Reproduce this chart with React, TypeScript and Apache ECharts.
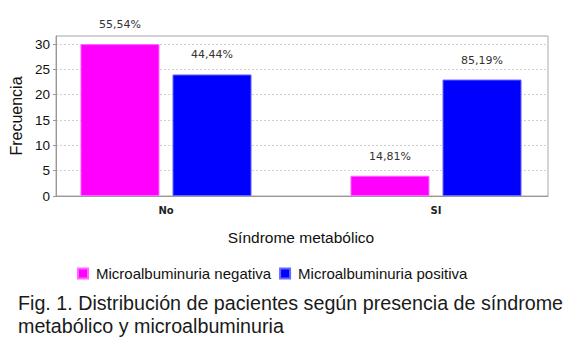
import React, { useEffect, useRef } from "react";
import * as echarts from "echarts";

const categories = ["No", "SI"];
const negativa = [30, 4];
const positiva = [24, 23];
const negativaLabels = ["55,54%", "14,81%"];
const positivaLabels = ["44,44%", "85,19%"];
const seriesNames = ["Microalbuminuria negativa", "Microalbuminuria positiva"];
const yTicks = [0, 5, 10, 15, 20, 25, 30];
const captionLines = [
  "Fig. 1. Distribución de pacientes según presencia de síndrome",
  "metabólico y microalbuminuria",
];

const Y_MAX = 31.6;

export default function App() {
  const ref = useRef<HTMLDivElement>(null);
  useEffect(() => {
    document.body.style.margin = "0";
    const chart = echarts.init(ref.current!, null, { renderer: "svg" });
    const sans = "'Liberation Sans', Arial, sans-serif";
    const tah = "'DejaVu Sans', Tahoma, sans-serif";
    chart.setOption({
      animation: false,
      backgroundColor: "#ffffff",
      grid: [
        { left: 56, top: 36, width: 492, height: 160, show: true, borderColor: "#a9a9a9", borderWidth: 1 },
        { left: 31, top: 36, width: 541, height: 160 },
      ],
      xAxis: [
        {
          type: "category",
          gridIndex: 0,
          data: [""],
          axisLine: { show: true, lineStyle: { color: "#999999" } },
          axisTick: { show: false },
          axisLabel: { show: false },
        },
        {
          type: "category",
          gridIndex: 1,
          data: categories,
          axisLine: { show: false },
          axisTick: { show: false },
          axisLabel: { margin: 9, fontFamily: tah, fontSize: 10, fontWeight: "bold", color: "#222" },
          name: "Síndrome metabólico",
          nameLocation: "middle",
          nameGap: 33,
          nameTextStyle: { fontFamily: sans, fontSize: 15.5, color: "#111" },
        },
      ],
      yAxis: [
        {
          type: "value",
          gridIndex: 0,
          min: 0,
          max: Y_MAX,
          interval: 5,
          axisLine: { show: true, lineStyle: { color: "#999999" } },
          axisTick: { show: true, length: 3, lineStyle: { color: "#999999" } },
          axisLabel: {
            showMaxLabel: false,
            margin: 6,
            fontFamily: sans,
            fontSize: 13.5,
            color: "#111",
            formatter: (v: number) => (yTicks.includes(v) ? String(v) : ""),
          },
          splitLine: { show: true, lineStyle: { color: "#cfcfcf", type: [2, 2] } },
          name: "Frecuencia",
          nameLocation: "middle",
          nameGap: 31,
          nameTextStyle: { fontFamily: sans, fontSize: 16, color: "#111" },
        },
        { type: "value", gridIndex: 1, min: 0, max: Y_MAX, show: false },
      ],
      legend: {
        left: 72,
        top: 261,
        itemWidth: 10,
        itemHeight: 10,
        itemGap: 8,
        icon: "rect",
        textStyle: { fontFamily: sans, fontSize: 15, color: "#111", padding: [0, 0, 0, 3] },
        data: seriesNames,
      },
      series: [
        {
          name: seriesNames[0],
          type: "bar",
          xAxisIndex: 1,
          yAxisIndex: 1,
          barWidth: 79,
          barGap: "16.5%",
          data: negativa,
          itemStyle: { color: "#ff00ff", borderColor: "#ff66ff", borderWidth: 1 },
          label: {
            show: true,
            position: "top",
            distance: 14,
            fontFamily: tah,
            fontSize: 11,
            color: "#333",
            formatter: (p: any) => negativaLabels[p.dataIndex],
          },
        },
        {
          name: seriesNames[1],
          type: "bar",
          xAxisIndex: 1,
          yAxisIndex: 1,
          barWidth: 79,
          data: positiva,
          itemStyle: { color: "#0000ff", borderColor: "#6666ff", borderWidth: 1 },
          label: {
            show: true,
            position: "top",
            distance: 14,
            fontFamily: tah,
            fontSize: 11,
            color: "#333",
            formatter: (p: any) => positivaLabels[p.dataIndex],
          },
        },
      ],
      graphic: [
        {
          type: "text",
          left: 18,
          top: 291,
          style: {
            text: captionLines.join("\n"),
            fontFamily: sans,
            fontSize: 19.7,
            lineHeight: 23,
            fill: "#1a1a1a",
          },
        },
      ],
    });
    return () => chart.dispose();
  }, []);
  return <div ref={ref} style={{ width: 571, height: 345 }} />;
}
